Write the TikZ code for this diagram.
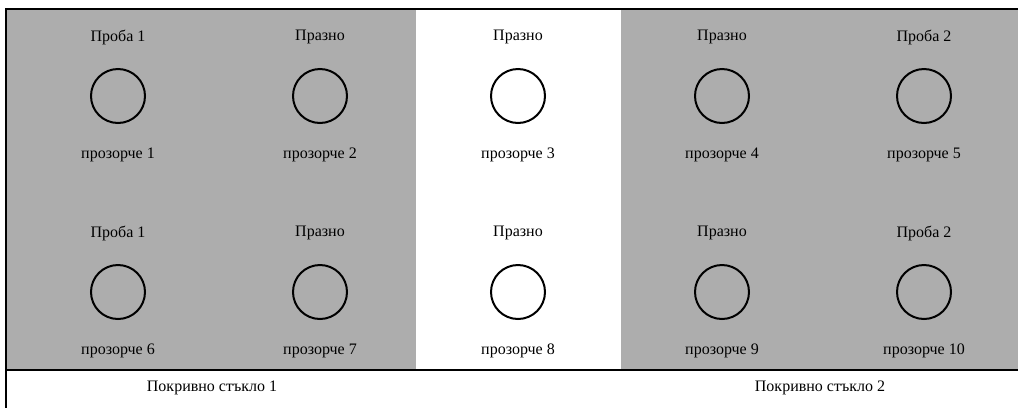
\documentclass[tikz,border=0pt]{standalone}
\usepackage{fontspec}
\setmainfont{Liberation Serif}
\begin{document}
\begin{tikzpicture}[x=1pt,y=-1pt,
  shade/.style={fill=black!32,draw=none},
  frame/.style={line width=1.6pt,black},
  well/.style={circle,draw=black,line width=2pt,minimum size=54pt,inner sep=0pt},
  lbl/.style={font=\fontsize{16}{18}\selectfont,inner sep=0pt}]
\useasboundingbox (0,0) rectangle (1018,408);
% shaded slide areas
\fill[shade] (6,9) rectangle (416,370);
\fill[shade] (621,9) rectangle (1018,370);
% frame lines
\draw[frame] (6,9) -- (1018,9);
\draw[frame] (6,370) -- (1018,370);
\draw[frame] (6,8.2) -- (6,408);
% wells
\foreach \n/\x/\y/\top in {1/118/96/Проба 1, 2/320/96/Празно, 3/518/96/Празно, 4/722/96/Празно, 5/924/96/Проба 2,
  6/118/292/Проба 1, 7/320/292/Празно, 8/518/292/Празно, 9/722/292/Празно, 10/924/292/Проба 2}{
  \node[well] (w\n) at (\x,\y) {};
  \node[lbl] (t\n) at (\x,\y-59) {\top};
  \node[lbl] (b\n) at (\x,\y+59) {прозорче \n};
}
\node[lbl] (c1) at (212,388) {Покривно стъкло 1};
\node[lbl] (c2) at (820,388) {Покривно стъкло 2};
\end{tikzpicture}
\end{document}
